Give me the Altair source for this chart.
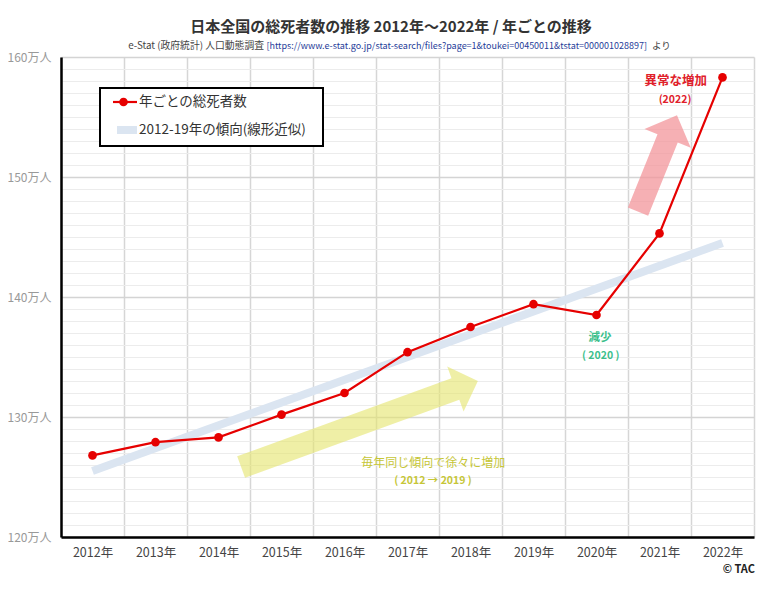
import altair as alt
import pandas as pd

# ---- data (万人) ----
years = [2012, 2013, 2014, 2015, 2016, 2017, 2018, 2019, 2020, 2021, 2022]
deaths = [126.8, 127.9, 128.3, 130.2, 132.0, 135.4, 137.5, 139.4, 138.5, 145.3, 158.3]
trend_years = [2012, 2022]
trend_vals = [125.5, 144.5]
y_ticks = list(range(120, 161))
x_ticks = [v / 2 for v in range(4023, 4046)]  # 2011.5 ... 2022.5

FONT = "Noto Sans CJK JP"
RED = "#e60000"
TREND = "#dbe5f1"

df = pd.DataFrame({"year": years, "deaths": deaths})
tdf = pd.DataFrame({"year": trend_years, "deaths": trend_vals})
one = pd.DataFrame({"k": [0]})

x_axis = alt.Axis(
    values=x_ticks,
    labelExpr="datum.value % 1 === 0 ? datum.value + '年' : ''",
    labelOverlap=False,
    grid=True,
    gridColor={"condition": {"test": "datum.value % 1 !== 0", "value": "#d6d6d6"}, "value": "transparent"},
    gridWidth=1.5,
    ticks=False,
    domainColor="#000000",
    domainWidth=2.5,
    labelFont=FONT,
    labelFontSize=12.5,
    labelColor="#444444",
    labelPadding=9,
    title=None,
)
y_axis = alt.Axis(
    values=y_ticks,
    labelExpr="datum.value % 10 === 0 ? datum.value + '万人' : ''",
    labelOverlap=False,
    grid=True,
    gridColor={"condition": {"test": "datum.value % 10 === 0", "value": "#d4d4d4"}, "value": "#ececec"},
    gridWidth={"condition": {"test": "datum.value % 10 === 0", "value": 1.5}, "value": 1},
    ticks=False,
    domainColor="#000000",
    domainWidth=2.5,
    labelFont=FONT,
    labelFontSize=12,
    labelColor="#999999",
    labelPadding=10,
    title=None,
)
X = alt.X("year:Q", scale=alt.Scale(domain=[2011.5, 2022.5], nice=False, zero=False), axis=x_axis)
Y = alt.Y("deaths:Q", scale=alt.Scale(domain=[120, 160], nice=False, zero=False), axis=y_axis)


def txt(s, x, y, size, color, weight="normal", align="center"):
    return alt.Chart(one).mark_text(
        text=s, font=FONT, fontSize=size, color=color, fontWeight=weight,
        align=align, baseline="middle"
    ).encode(x=alt.value(x), y=alt.value(y))


def arrow(path, size, angle, color, opacity, x, y):
    return alt.Chart(one).mark_point(
        shape=path, size=size, angle=angle, filled=True, fill=color,
        strokeWidth=0, opacity=opacity
    ).encode(x=alt.value(x), y=alt.value(y))


yellow_arrow = arrow("M-0.091,1L-0.091,-0.81L-0.19,-0.81L0,-1L0.19,-0.81L0.091,-0.81L0.091,1Z",
                     63504, 70, "#e4e46a", 0.6, 298.5, 367)
pink_arrow = arrow("M-0.21,1L-0.21,-0.52L-0.48,-0.52L0,-1L0.48,-0.52L0.21,-0.52L0.21,1Z",
                   10816, 22, "#f3959b", 0.75, 596.5, 106.5)

trend = alt.Chart(tdf).mark_line(color=TREND, strokeWidth=8, strokeCap="butt").encode(x=X, y=Y)
line = alt.Chart(df).mark_line(color=RED, strokeWidth=2.2).encode(x=X, y=Y)
pts = alt.Chart(df).mark_circle(color=RED, size=75, opacity=1).encode(x=X, y=Y)

# legend box
leg_box = alt.Chart(one).mark_rect(fill="white", stroke="black", strokeWidth=2).encode(
    x=alt.value(39), x2=alt.value(262), y=alt.value(31), y2=alt.value(89))
leg_red = alt.Chart(one).mark_rule(color=RED, strokeWidth=2.2).encode(
    x=alt.value(52), x2=alt.value(76), y=alt.value(45))
leg_dot = alt.Chart(one).mark_circle(color=RED, size=75, opacity=1).encode(
    x=alt.value(62.5), y=alt.value(45))
leg_blue = alt.Chart(one).mark_rule(color=TREND, strokeWidth=8, strokeCap="butt").encode(
    x=alt.value(56), x2=alt.value(76), y=alt.value(73))
leg_t1 = txt("年ごとの総死者数", 78, 45, 13.5, "#333333", align="left")
leg_t2 = txt("2012-19年の傾向(線形近似)", 78, 73, 13.5, "#333333", align="left")

title = txt("日本全国の総死者数の推移 2012年～2022年 / 年ごとの推移", 330, -30, 15, "#333333", "bold")
sub1 = txt("e-Stat (政府統計) 人口動態調査", 203, -11.5, 9.8, "#444444", align="right")
sub2 = txt("[https://www.e-stat.go.jp/stat-search/files?page=1&toukei=00450011&tstat=000001028897]",
           395.7, -11.5, 9, "#1f3d99")
sub3 = txt("より", 591, -11.5, 9.5, "#444444", align="left")

a1 = txt("異常な増加", 614.7, 24, 12.5, "#e0202a", "bold")
a2 = txt("(2022)", 614, 43, 10.5, "#e0202a", "bold")
b1 = txt("減少", 539, 280.7, 11.5, "#3cbf8c", "bold")
b2 = txt("( 2020 )", 539.7, 298.7, 10.5, "#3cbf8c", "bold")
c1 = txt("毎年同じ傾向で徐々に増加", 372.3, 405.7, 12, "#c6c637")
c2 = txt("( 2012 → 2019 )", 372, 423.7, 10.5, "#c6c637", "bold")
tac = txt("© TAC", 694, 513, 11, "#222222", "bold", align="right")

chart = alt.layer(
    yellow_arrow, pink_arrow, trend, line, pts,
    leg_box, leg_red, leg_dot, leg_blue, leg_t1, leg_t2,
    title, sub1, sub2, sub3, a1, a2, b1, b2, c1, c2, tac,
).properties(
    width=693,
    height=480,
    autosize=alt.AutoSizeParams(type="none"),
    padding={"left": 53, "top": 49, "right": 15, "bottom": 39},
    background="white",
).configure_view(strokeWidth=0)

chart.save("out.html", embed_options={"renderer": "svg", "actions": False})
